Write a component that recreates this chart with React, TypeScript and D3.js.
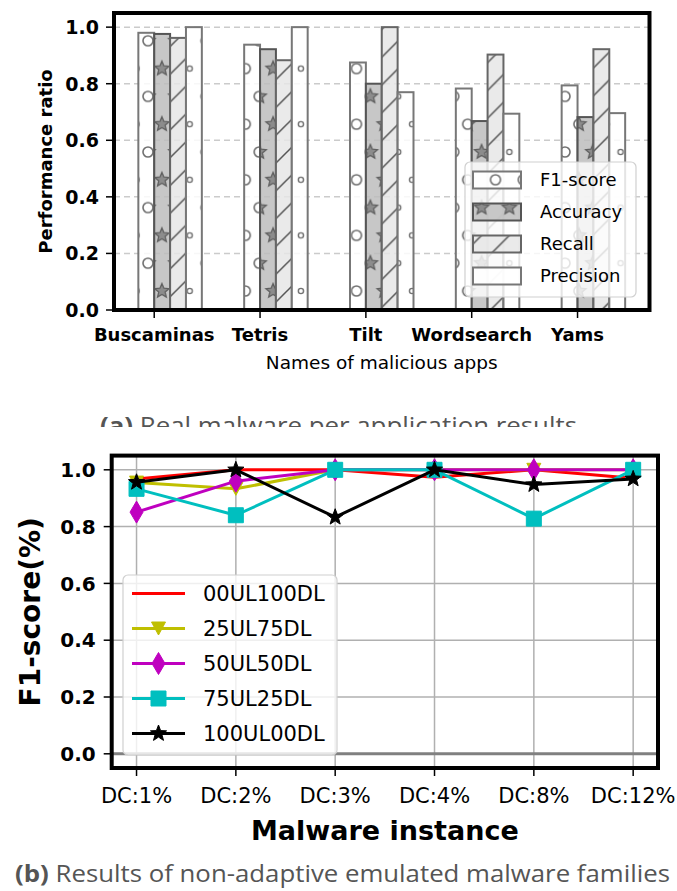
import React, { useEffect, useRef } from 'react';
import * as d3 from 'd3';

// (a) per application results
const apps = ['Buscaminas', 'Tetris', 'Tilt', 'Wordsearch', 'Yams'];
const f1Score = [0.98, 0.938, 0.875, 0.783, 0.794];
const accuracy = [0.976, 0.922, 0.8, 0.668, 0.682];
const recall = [0.962, 0.883, 1.0, 0.903, 0.922];
const precision = [1.0, 1.0, 0.77, 0.694, 0.696];
const metricNames = ['F1-score', 'Accuracy', 'Recall', 'Precision'];
const barTicks = [0, 0.2, 0.4, 0.6, 0.8, 1.0];

// (b) non-adaptive emulated families
const dcLabels = ['DC:1%', 'DC:2%', 'DC:3%', 'DC:4%', 'DC:8%', 'DC:12%'];
const ul00dl100 = [0.968, 1.0, 1.0, 0.974, 1.0, 0.97];
const ul25dl75 = [0.955, 0.933, 1.0, 1.0, 1.0, 1.0];
const ul50dl50 = [0.851, 0.96, 1.0, 1.0, 1.0, 1.0];
const ul75dl25 = [0.933, 0.84, 1.0, 1.0, 0.828, 1.0];
const ul100dl00 = [0.956, 1.0, 0.833, 1.0, 0.948, 0.968];
const lineNames = ['00UL100DL', '25UL75DL', '50UL50DL', '75UL25DL', '100UL00DL'];
const lineTicks = [0, 0.2, 0.4, 0.6, 0.8, 1.0];

const TILE = 27.8;
const BOLD = "'DejaVu Sans', sans-serif";
const CAPTION = "'Open Sans', sans-serif";

function starPath(r, ratio) {
  const pts = [];
  for (let k = 0; k < 10; k++) {
    const a = -Math.PI / 2 + (k * Math.PI) / 5;
    const rr = k % 2 === 0 ? r : r * ratio;
    pts.push([rr * Math.cos(a), rr * Math.sin(a)]);
  }
  return 'M' + pts.map(p => p[0].toFixed(2) + ',' + p[1].toFixed(2)).join('L') + 'Z';
}

function markerPath(kind) {
  if (kind === 'v') return 'M0,6.5L-7,-6.5L7,-6.5Z';
  if (kind === 'd') return 'M0,-11L6.5,0L0,11L-6.5,0Z';
  if (kind === 's') return 'M-7.5,-7.5L7.5,-7.5L7.5,7.5L-7.5,7.5Z';
  if (kind === '*') return starPath(8.5, 0.42);
  return null;
}

function drawDefs(svg) {
  const defs = svg.append('defs');
  const corners = [[0, 0], [TILE, 0], [0, 2 * TILE], [TILE, 2 * TILE], [TILE / 2, TILE]];

  const lattice = id =>
    defs
      .append('pattern')
      .attr('id', id)
      .attr('patternUnits', 'userSpaceOnUse')
      .attr('width', TILE)
      .attr('height', 2 * TILE)
      .attr('patternTransform', 'translate(148,152)');

  const big = lattice('hatchO');
  corners.forEach(c =>
    big.append('circle').attr('cx', c[0]).attr('cy', c[1]).attr('r', 5)
      .attr('fill', 'none').attr('stroke', '#6e6e6e').attr('stroke-width', 1.6)
  );

  const stars = lattice('hatchStar');
  corners.forEach(c =>
    stars.append('path').attr('d', starPath(7.5, 0.45))
      .attr('transform', 'translate(' + c[0] + ',' + c[1] + ')')
      .attr('fill', '#8c8c8c').attr('stroke', '#5e5e5e').attr('stroke-width', 1.3)
  );

  const small = lattice('hatchSmallO');
  corners.forEach(c =>
    small.append('circle').attr('cx', c[0]).attr('cy', c[1]).attr('r', 2.6)
      .attr('fill', 'none').attr('stroke', '#6e6e6e').attr('stroke-width', 1.4)
  );

  const diag = defs
    .append('pattern')
    .attr('id', 'hatchDiag')
    .attr('patternUnits', 'userSpaceOnUse')
    .attr('width', TILE)
    .attr('height', TILE)
    .attr('patternTransform', 'translate(148,152)');
  diag.append('path')
    .attr('d', `M0,${TILE}L${TILE},0M-2,2L2,-2M${TILE - 2},${TILE + 2}L${TILE + 2},${TILE - 2}`)
    .attr('stroke', '#555').attr('stroke-width', 1.5);

  defs.append('clipPath').attr('id', 'capClip')
    .append('rect').attr('x', 0).attr('y', 0).attr('width', 677).attr('height', 427);
}

function drawBarChart(svg) {
  const left = 114, right = 649.5, top = 13, bottom = 310;
  const x = d3.scaleLinear().domain([-0.38, 4.68]).range([left, right]);
  const y = d3.scaleLinear().domain([0, 1.05]).range([bottom, top]);
  const bw = 0.15;
  const g = svg.append('g');

  const series = [
    { name: metricNames[0], values: f1Score, fill: '#ffffff', hatch: 'hatchO', edge: '#777' },
    { name: metricNames[1], values: accuracy, fill: '#bdbdbd', hatch: 'hatchStar', edge: '#555' },
    { name: metricNames[2], values: recall, fill: '#e6e6e6', hatch: 'hatchDiag', edge: '#666' },
    { name: metricNames[3], values: precision, fill: '#ffffff', hatch: 'hatchSmallO', edge: '#777' },
  ];

  // dashed grid
  g.selectAll('.grid')
    .data(barTicks.filter(t => t > 0))
    .enter()
    .append('line')
    .attr('x1', left).attr('x2', right)
    .attr('y1', d => y(d)).attr('y2', d => y(d))
    .attr('stroke', '#cbcbcb').attr('stroke-width', 1.5).attr('stroke-dasharray', '6,4');

  series.forEach((s, j) => {
    const bars = g.append('g');
    s.values.forEach((v, i) => {
      const x0 = x(i + (j - 1) * bw);
      const w = x(bw) - x(0);
      const yy = y(v);
      const h = y(0) - yy;
      bars.append('rect').attr('x', x0).attr('y', yy).attr('width', w).attr('height', h)
        .attr('fill', s.fill).attr('fill-opacity', 0.85);
      bars.append('rect').attr('x', x0).attr('y', yy).attr('width', w).attr('height', h)
        .attr('fill', 'url(#' + s.hatch + ')');
      bars.append('rect').attr('x', x0).attr('y', yy).attr('width', w).attr('height', h)
        .attr('fill', 'none').attr('stroke', s.edge).attr('stroke-width', 2);
    });
  });

  // y ticks
  barTicks.forEach(t => {
    g.append('line').attr('x1', left - 8).attr('x2', left).attr('y1', y(t)).attr('y2', y(t))
      .attr('stroke', '#000').attr('stroke-width', 1.5);
    g.append('text').attr('x', left - 15).attr('y', y(t)).attr('dy', '0.36em')
      .attr('text-anchor', 'end').attr('font-family', BOLD).attr('font-weight', 'bold')
      .attr('font-size', 19).text(t.toFixed(1));
  });

  // x ticks
  apps.forEach((a, i) => {
    g.append('line').attr('x1', x(i)).attr('x2', x(i)).attr('y1', bottom).attr('y2', bottom + 8)
      .attr('stroke', '#000').attr('stroke-width', 1.5);
    g.append('text').attr('x', x(i)).attr('y', 341).attr('text-anchor', 'middle')
      .attr('font-family', BOLD).attr('font-weight', 'bold').attr('font-size', 18).text(a);
  });

  g.append('rect').attr('x', left).attr('y', top).attr('width', right - left).attr('height', bottom - top)
    .attr('fill', 'none').attr('stroke', '#000').attr('stroke-width', 4);

  g.append('text').attr('transform', 'translate(52,' + (top + bottom) / 2 + ') rotate(-90)')
    .attr('text-anchor', 'middle').attr('font-family', BOLD).attr('font-weight', 'bold')
    .attr('font-size', 18).text('Performance ratio');

  g.append('text').attr('x', (left + right) / 2).attr('y', 369).attr('text-anchor', 'middle')
    .attr('font-family', BOLD).attr('font-size', 18.5).text('Names of malicious apps');

  // legend
  const lg = g.append('g');
  lg.append('rect').attr('x', 465).attr('y', 162).attr('width', 171).attr('height', 135).attr('rx', 5)
    .attr('fill', '#fff').attr('fill-opacity', 0.8).attr('stroke', '#d0d0d0').attr('stroke-width', 1.2);
  series.forEach((s, j) => {
    const cy = 180 + j * 32;
    lg.append('rect').attr('x', 473).attr('y', cy - 8.5).attr('width', 48).attr('height', 17)
      .attr('fill', s.fill).attr('fill-opacity', 0.85);
    lg.append('rect').attr('x', 473).attr('y', cy - 8.5).attr('width', 48).attr('height', 17)
      .attr('fill', 'url(#' + s.hatch + ')');
    lg.append('rect').attr('x', 473).attr('y', cy - 8.5).attr('width', 48).attr('height', 17)
      .attr('fill', 'none').attr('stroke', s.edge).attr('stroke-width', 2);
    lg.append('text').attr('x', 540).attr('y', cy).attr('dy', '0.36em')
      .attr('font-family', BOLD).attr('font-size', 18).text(s.name);
  });
}

function drawLineChart(svg) {
  const left = 111.7, right = 658, top = 455.6, bottom = 768;
  const x = d3.scaleLinear().domain([-0.25, 5.25]).range([left, right]);
  const y = d3.scaleLinear().domain([-0.05, 1.05]).range([bottom, top]);
  const g = svg.append('g');

  const series = [
    { name: lineNames[0], values: ul00dl100, color: '#ff0000', marker: null },
    { name: lineNames[1], values: ul25dl75, color: '#bfbf00', marker: 'v' },
    { name: lineNames[2], values: ul50dl50, color: '#bf00bf', marker: 'd' },
    { name: lineNames[3], values: ul75dl25, color: '#00bfbf', marker: 's' },
    { name: lineNames[4], values: ul100dl00, color: '#000000', marker: '*' },
  ];

  dcLabels.forEach((_, i) => {
    g.append('line').attr('x1', x(i)).attr('x2', x(i)).attr('y1', top).attr('y2', bottom)
      .attr('stroke', '#b0b0b0').attr('stroke-width', 1.5);
  });
  lineTicks.forEach(t => {
    g.append('line').attr('x1', left).attr('x2', right).attr('y1', y(t)).attr('y2', y(t))
      .attr('stroke', '#b0b0b0').attr('stroke-width', 1.5);
  });
  g.append('line').attr('x1', left).attr('x2', right).attr('y1', y(0)).attr('y2', y(0))
    .attr('stroke', '#808080').attr('stroke-width', 3);

  const line = d3.line<number>().x((d, i) => x(i)).y(d => y(d));
  series.forEach(s => {
    g.append('path').attr('d', line(s.values)).attr('fill', 'none')
      .attr('stroke', s.color).attr('stroke-width', 3).attr('stroke-linejoin', 'round');
    if (s.marker) {
      s.values.forEach((v, i) => {
        g.append('path').attr('d', markerPath(s.marker))
          .attr('transform', 'translate(' + x(i) + ',' + y(v) + ')')
          .attr('fill', s.color).attr('stroke', s.color).attr('stroke-width', 1);
      });
    }
  });

  lineTicks.forEach(t => {
    g.append('line').attr('x1', left - 8).attr('x2', left).attr('y1', y(t)).attr('y2', y(t))
      .attr('stroke', '#000').attr('stroke-width', 1.5);
    g.append('text').attr('x', left - 16).attr('y', y(t)).attr('dy', '0.36em')
      .attr('text-anchor', 'end').attr('font-family', BOLD).attr('font-weight', 'bold')
      .attr('font-size', 20).text(t.toFixed(1));
  });
  dcLabels.forEach((lbl, i) => {
    g.append('line').attr('x1', x(i)).attr('x2', x(i)).attr('y1', bottom).attr('y2', bottom + 8)
      .attr('stroke', '#000').attr('stroke-width', 1.5);
    g.append('text').attr('x', x(i)).attr('y', 803).attr('text-anchor', 'middle')
      .attr('font-family', BOLD).attr('font-size', 21).text(lbl);
  });

  g.append('rect').attr('x', left).attr('y', top).attr('width', right - left).attr('height', bottom - top)
    .attr('fill', 'none').attr('stroke', '#000').attr('stroke-width', 4);

  g.append('text').attr('transform', 'translate(40,' + (top + bottom) / 2 + ') rotate(-90)')
    .attr('text-anchor', 'middle').attr('font-family', BOLD).attr('font-weight', 'bold')
    .attr('font-size', 28).text('F1-score(%)');
  g.append('text').attr('x', (left + right) / 2).attr('y', 840).attr('text-anchor', 'middle')
    .attr('font-family', BOLD).attr('font-weight', 'bold').attr('font-size', 27).text('Malware instance');

  // legend
  const lg = g.append('g');
  lg.append('rect').attr('x', 123).attr('y', 575).attr('width', 214).attr('height', 180).attr('rx', 5)
    .attr('fill', '#fff').attr('fill-opacity', 0.8).attr('stroke', '#d0d0d0').attr('stroke-width', 1.2);
  series.forEach((s, j) => {
    const cy = 593.5 + j * 35;
    lg.append('line').attr('x1', 132).attr('x2', 185).attr('y1', cy).attr('y2', cy)
      .attr('stroke', s.color).attr('stroke-width', 3);
    if (s.marker) {
      lg.append('path').attr('d', markerPath(s.marker)).attr('transform', 'translate(158.5,' + cy + ')')
        .attr('fill', s.color).attr('stroke', s.color).attr('stroke-width', 1);
    }
    lg.append('text').attr('x', 203).attr('y', cy).attr('dy', '0.36em')
      .attr('font-family', BOLD).attr('font-size', 21).text(s.name);
  });
}

function drawCaptions(svg) {
  const a = svg.append('text').attr('x', 100).attr('y', 434).attr('clip-path', 'url(#capClip)')
    .attr('font-family', CAPTION).attr('font-size', 24).attr('fill', '#555')
    .attr('textLength', 477).attr('lengthAdjust', 'spacingAndGlyphs');
  a.append('tspan').attr('font-weight', 'bold').text('(a)');
  a.append('tspan').text(' Real malware per application results');

  const b = svg.append('text').attr('x', 15).attr('y', 882)
    .attr('font-family', CAPTION).attr('font-size', 23).attr('fill', '#555')
    .attr('textLength', 655).attr('lengthAdjust', 'spacingAndGlyphs');
  b.append('tspan').attr('font-weight', 'bold').text('(b)');
  b.append('tspan').text(' Results of non-adaptive emulated malware families');
}

export default function App() {
  const ref = useRef<SVGSVGElement>(null);

  useEffect(() => {
    const svg = d3.select(ref.current);
    svg.selectAll('*').remove();
    drawDefs(svg);
    drawBarChart(svg);
    drawLineChart(svg);
    drawCaptions(svg);
  }, []);

  return (
    <svg
      ref={ref}
      width={677}
      height={891}
      style={{ position: 'absolute', left: 0, top: 0, background: '#fff' }}
    />
  );
}
